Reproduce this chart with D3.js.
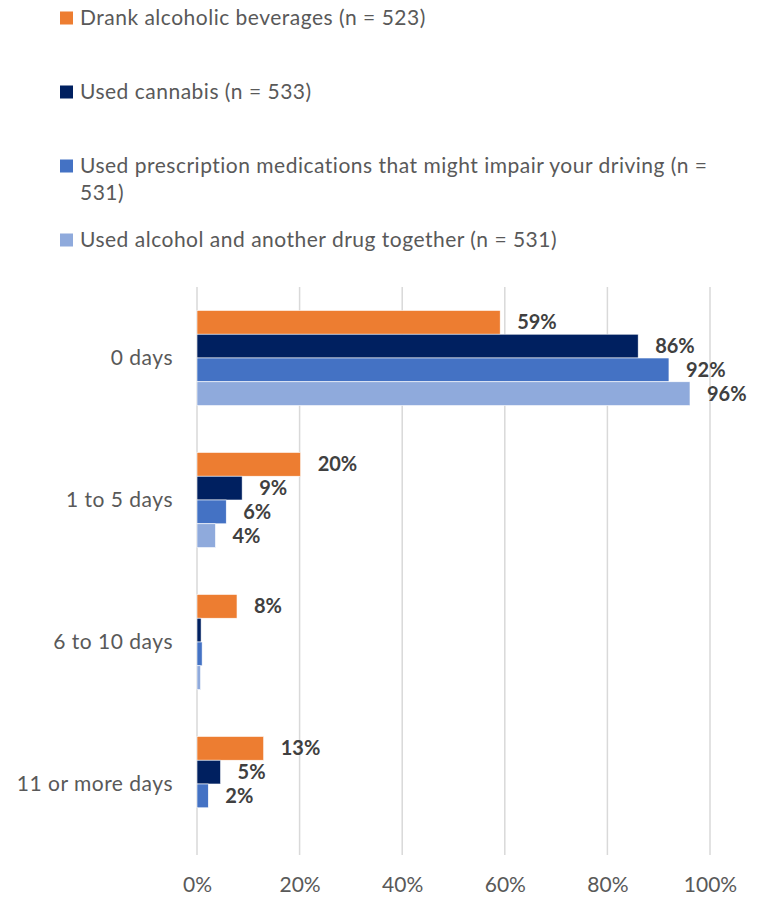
<!DOCTYPE html>
<html><head><meta charset="utf-8">
<script src="https://cdn.jsdelivr.net/npm/d3@7"></script>
<style>body{margin:0;background:#fff}svg{display:block}text{font-family:Lato,"Open Sans",sans-serif}</style>
</head><body><svg id="c" width="761" height="897"></svg>
<script>
const categories = ["0 days", "1 to 5 days", "6 to 10 days", "11 or more days"];
const seriesNames = [
  "Drank alcoholic beverages (n = 523)",
  "Used cannabis (n = 533)",
  "Used prescription medications that might impair your driving (n = 531)",
  "Used alcohol and another drug together (n = 531)"
];
const seriesColors = ["#ED7D31", "#002060", "#4472C4", "#8FAADC"];
const alcohol = [59.1, 20.2, 7.8, 13.0];
const cannabis = [86.0, 8.8, 0.8, 4.6];
const prescription = [92.0, 5.7, 1.0, 2.2];
const combined = [96.1, 3.6, 0.7, 0];
const labelsShown = [
  ["59%", "20%", "8%", "13%"],
  ["86%", "9%", null, "5%"],
  ["92%", "6%", null, "2%"],
  ["96%", "4%", null, null]
];
const ticks = [0, 20, 40, 60, 80, 100];

const series = [alcohol, cannabis, prescription, combined];
const svg = d3.select("#c");
const x = d3.scaleLinear().domain([0, 100]).range([197, 710]);
const y = d3.scaleBand().domain(categories).range([287, 855]).paddingInner(0.33).paddingOuter(0.165);
const ys = d3.scaleBand().domain(d3.range(4)).range([0, y.bandwidth()]);

// gridlines
svg.append("g").selectAll("line").data(ticks).join("line")
  .attr("x1", d => x(d)).attr("x2", d => x(d)).attr("y1", 287).attr("y2", 855)
  .attr("stroke", "#d9d9d9").attr("stroke-width", 1.5);

// axis
const ax = svg.append("g").attr("transform", "translate(0,855)")
  .call(d3.axisBottom(x).tickValues(ticks).tickFormat(d => d + "%").tickSize(0).tickPadding(22));
ax.select(".domain").remove();
ax.selectAll("text").attr("fill", "#595959").style("font-size", "21px").style("font-family", "Lato, sans-serif");

// category labels
const ay = svg.append("g").attr("transform", "translate(197,0)")
  .call(d3.axisLeft(y).tickSize(0).tickPadding(24));
ay.select(".domain").remove();
ay.selectAll("text").attr("fill", "#595959").style("font-size", "21px").style("letter-spacing", "0.5px").style("font-family", "Lato, sans-serif");

// bars
series.forEach((vals, si) => {
  const g = svg.append("g");
  g.selectAll("rect").data(categories).join("rect")
    .attr("x", x(0))
    .attr("y", c => y(c) + ys(si))
    .attr("width", (c, i) => x(vals[i]) - x(0))
    .attr("height", ys.bandwidth())
    .attr("fill", seriesColors[si])
    .attr("stroke", "#fff").attr("stroke-width", 0.6);
  g.selectAll("text").data(categories).join("text")
    .filter((c, i) => labelsShown[si][i] !== null)
    .attr("x", c => x(vals[categories.indexOf(c)]) + 17)
    .attr("y", c => y(c) + ys(si) + ys.bandwidth() / 2)
    .attr("dy", "0.35em")
    .attr("fill", "#404040").style("font-size", "20px").style("font-weight", "bold")
    .text(c => labelsShown[si][categories.indexOf(c)]);
});

// legend
const legendY = [18, 92, 166, 240];
seriesNames.forEach((name, i) => {
  const g = svg.append("g").attr("transform", `translate(60,${legendY[i]})`);
  g.append("rect").attr("x", 0).attr("y", -6.5).attr("width", 13).attr("height", 13).attr("fill", seriesColors[i]);
  const t = g.append("text").attr("x", 20).attr("y", 0)
    .attr("fill", "#595959").style("font-size", "21px").style("letter-spacing", "0.5px");
  const words = name.split(" ");
  let line = [];
  let tspan = t.append("tspan").attr("x", 20).attr("dy", "0.35em");
  words.forEach(w => {
    line.push(w);
    tspan.text(line.join(" "));
    if (tspan.node().getComputedTextLength() > 660 && line.length > 1) {
      line.pop();
      tspan.text(line.join(" "));
      line = [w];
      tspan = t.append("tspan").attr("x", 20).attr("dy", "27px").text(w);
    }
  });
});
</script></body></html>
